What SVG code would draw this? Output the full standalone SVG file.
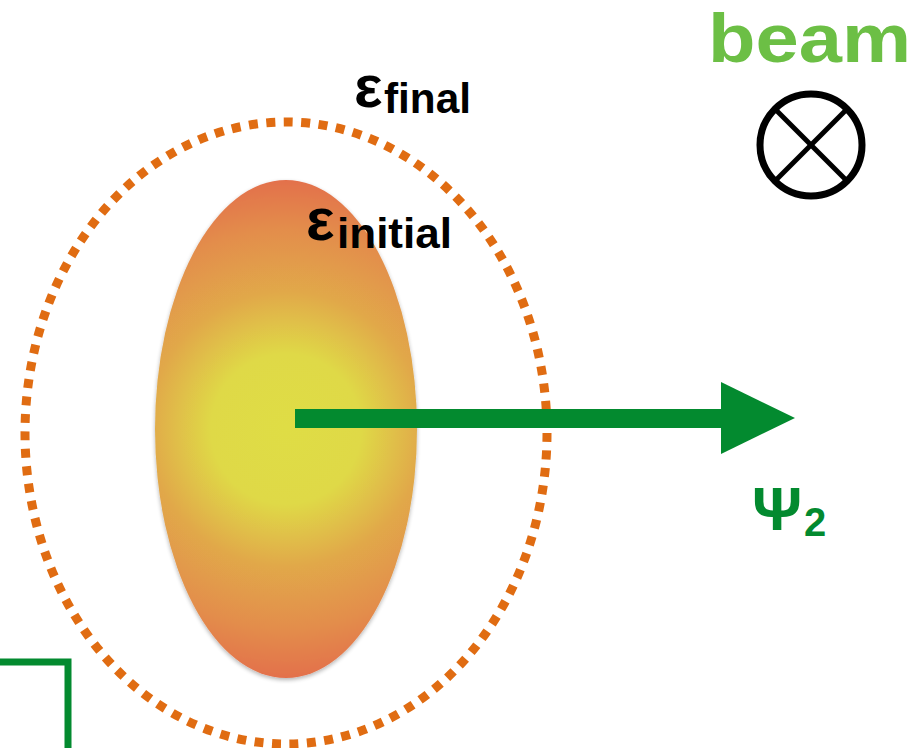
<svg xmlns="http://www.w3.org/2000/svg" width="916" height="748" viewBox="0 0 916 748">
<defs>
<radialGradient id="bunch" gradientUnits="userSpaceOnUse" cx="286" cy="429" r="250">
<stop offset="0" stop-color="#dfdd45"/>
<stop offset="0.3" stop-color="#dfd946"/>
<stop offset="0.55" stop-color="#e1a84a"/>
<stop offset="0.8" stop-color="#e38d4c"/>
<stop offset="1" stop-color="#e3704c"/>
</radialGradient>
<filter id="sh" x="-10%" y="-10%" width="120%" height="120%">
<feGaussianBlur in="SourceAlpha" stdDeviation="2"/>
<feOffset dx="0" dy="2"/>
<feComponentTransfer><feFuncA type="linear" slope="0.3"/></feComponentTransfer>
<feMerge><feMergeNode/><feMergeNode in="SourceGraphic"/></feMerge>
</filter>
</defs>
<style>
.lbl{font-family:"Liberation Sans",Arial,sans-serif;font-weight:bold;}
</style>
<rect width="916" height="748" fill="#ffffff"/>
<g id="initial">
<ellipse cx="286" cy="429" rx="131" ry="249" fill="url(#bunch)" filter="url(#sh)"/>
</g>
<g id="final">
<ellipse cx="286" cy="433" rx="261" ry="311" fill="none" stroke="#e06c12" stroke-width="9" stroke-dasharray="9 8.5"/>
</g>
<g id="connectors">
<rect x="295" y="409" width="430" height="19" fill="#038a2f"/>
<polygon points="721,382 795,418 721,454" fill="#038a2f"/>
<polyline points="0,662 68,662 68,748" fill="none" stroke="#038a2f" stroke-width="7"/>
</g>
<g id="labels">
<text x="354" y="107" class="lbl" font-size="60" fill="#000">ε</text>
<text x="384" y="113" class="lbl" font-size="42" fill="#000" textLength="87" lengthAdjust="spacingAndGlyphs">final</text>
<text x="306" y="240" class="lbl" font-size="60" fill="#000">ε</text>
<text x="337" y="248" class="lbl" font-size="42" fill="#000" textLength="115" lengthAdjust="spacingAndGlyphs">initial</text>
<text x="752" y="530" class="lbl" font-size="62" fill="#038a2f">Ψ</text>
<text x="804" y="536" class="lbl" font-size="40" fill="#038a2f">2</text>
</g>
<g id="beam">
<text x="708" y="62" class="lbl" font-size="68" fill="#6cbf45" textLength="203" lengthAdjust="spacingAndGlyphs">beam</text>
<circle cx="811" cy="145" r="51" fill="none" stroke="#000" stroke-width="7"/>
<line x1="775" y1="109" x2="847" y2="181" stroke="#000" stroke-width="5"/>
<line x1="847" y1="109" x2="775" y2="181" stroke="#000" stroke-width="5"/>
</g>
</svg>
